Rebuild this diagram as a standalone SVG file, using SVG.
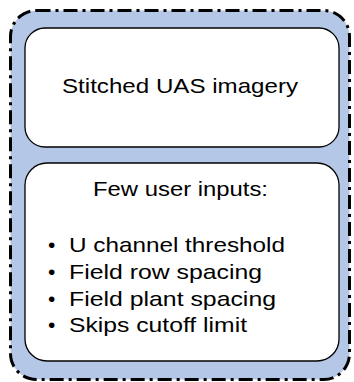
<svg xmlns="http://www.w3.org/2000/svg" width="354" height="382" viewBox="0 0 354 382">
<style>
.outer{fill:#B4C7E7;stroke:#000;stroke-width:3;stroke-dasharray:14 5 3 5}
.box{fill:#fff;stroke:#000;stroke-width:1.3}
.t{font-family:"Liberation Sans",Arial,sans-serif;font-size:21px;fill:#000}
</style>
<rect width="354" height="382" fill="#fff"/>
<g id="container">
<rect class="outer" x="10.5" y="10.5" width="339" height="369" rx="26"/>
</g>
<g id="imagery">
<rect class="box" x="25" y="28" width="314" height="119" rx="20"/>
<text class="t" x="62" y="93" textLength="236" lengthAdjust="spacingAndGlyphs">Stitched UAS imagery</text>
</g>
<g id="inputs">
<rect class="box" x="25" y="163" width="314" height="198" rx="22"/>
<text class="t" x="93" y="196" textLength="175" lengthAdjust="spacingAndGlyphs">Few user inputs:</text>
<text class="t" x="48" y="252">•</text>
<text class="t" x="69" y="252" textLength="216" lengthAdjust="spacingAndGlyphs">U channel threshold</text>
<text class="t" x="48" y="279">•</text>
<text class="t" x="69" y="279" textLength="193" lengthAdjust="spacingAndGlyphs">Field row spacing</text>
<text class="t" x="48" y="306">•</text>
<text class="t" x="69" y="306" textLength="207" lengthAdjust="spacingAndGlyphs">Field plant spacing</text>
<text class="t" x="48" y="332">•</text>
<text class="t" x="69" y="332" textLength="178" lengthAdjust="spacingAndGlyphs">Skips cutoff limit</text>
</g>
<g id="connectors"/>
</svg>
